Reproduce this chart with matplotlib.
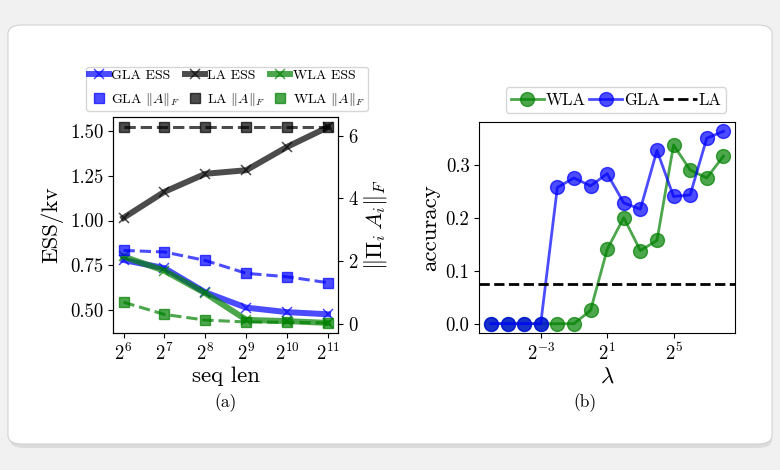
import numpy as np
import matplotlib
matplotlib.use('Agg')
import matplotlib.pyplot as plt
from matplotlib.patches import FancyBboxPatch
from matplotlib.lines import Line2D

plt.rcParams['font.family'] = 'serif'
plt.rcParams['font.serif'] = ['cmr10', 'DejaVu Serif']
plt.rcParams['mathtext.fontset'] = 'cm'
plt.rcParams['axes.formatter.use_mathtext'] = True

# (a) effective state size vs sequence length
seq_len = [2**6, 2**7, 2**8, 2**9, 2**10, 2**11]
gla_ess = [0.78, 0.735, 0.60, 0.515, 0.49, 0.478]
la_ess = [1.015, 1.16, 1.26, 1.28, 1.41, 1.52]
wla_ess = [0.80, 0.72, 0.595, 0.447, 0.44, 0.43]
gla_norm = [2.34, 2.29, 2.02, 1.61, 1.50, 1.31]
la_norm = [6.27, 6.27, 6.27, 6.27, 6.27, 6.27]
wla_norm = [0.69, 0.30, 0.12, 0.06, 0.05, 0.03]

# (b) accuracy vs lambda
lam = [2.0**k for k in range(-6, 9)]
wla_acc = [0, 0, 0, 0, 0, 0, 0.025, 0.14, 0.20, 0.138, 0.157, 0.337, 0.29, 0.275, 0.316]
gla_acc = [0, 0, 0, 0, 0.257, 0.275, 0.26, 0.283, 0.228, 0.216, 0.327, 0.24, 0.243, 0.35, 0.363]
la_acc = 0.075

fig = plt.figure(figsize=(7.8, 4.7), dpi=100)
fig.patch.set_facecolor('#f1f1f1')

# card behind the plots
W, H = 780, 470
shadow = FancyBboxPatch((10 / W, 1 - 448 / H), 762 / W, 418 / H,
                        boxstyle='round,pad=0,rounding_size=0.018',
                        transform=fig.transFigure, facecolor='#dcdcdc',
                        edgecolor='none', zorder=-2)
card = FancyBboxPatch((8 / W, 1 - 444 / H), 764 / W, 419 / H,
                      boxstyle='round,pad=0,rounding_size=0.018',
                      transform=fig.transFigure, facecolor='white',
                      edgecolor='#c8c8c8', linewidth=0.6, zorder=-1)
fig.patches.extend([shadow, card])

tick_fs = 13.5
lab_fs = 16.5
a = 0.7

ax1 = fig.add_axes([113.3 / W, 1 - 332.7 / H, 225 / W, 215.4 / H])
ax1r = ax1.twinx()
l_gla, = ax1.plot(seq_len, gla_ess, color='blue', lw=4.3, alpha=a, marker='x', ms=6.5, mew=1.1, label='GLA ESS')
l_la, = ax1.plot(seq_len, la_ess, color='black', lw=4.3, alpha=a, marker='x', ms=6.5, mew=1.1, label='LA ESS')
l_wla, = ax1.plot(seq_len, wla_ess, color='green', lw=4.3, alpha=a, marker='x', ms=6.5, mew=1.1, label='WLA ESS')
ax1r.plot(seq_len, gla_norm, color='blue', lw=2.2, ls='--', alpha=a, marker='s', ms=7)
ax1r.plot(seq_len, la_norm, color='black', lw=2.2, ls='--', alpha=a, marker='s', ms=7)
ax1r.plot(seq_len, wla_norm, color='green', lw=2.2, ls='--', alpha=a, marker='s', ms=7)
ax1.set_xscale('log', base=2)
ax1.set_xticks(seq_len)
ax1.xaxis.set_minor_locator(matplotlib.ticker.NullLocator())
ax1.set_yticks([0.5, 0.75, 1.0, 1.25, 1.5])
ax1.set_yticklabels(['0.50', '0.75', '1.00', '1.25', '1.50'])
ax1r.set_yticks([0, 2, 4, 6])
ax1.set_xlabel('seq len', fontsize=lab_fs, labelpad=2)
ax1.set_ylabel('ESS/kv', fontsize=lab_fs, labelpad=5)
ax1r.set_ylabel(r'$\|\Pi_i\, A_i\|_F$', fontsize=lab_fs, labelpad=2)
for ax in (ax1, ax1r):
    ax.tick_params(labelsize=tick_fs)

# legend: squares shown as marker only
sq = lambda c, lab: Line2D([], [], color=c, alpha=a, ls='none', marker='s', ms=7, label=lab)
n_gla = sq('blue', r'GLA $\|A\|_F$')
n_la = sq('black', r'LA $\|A\|_F$')
n_wla = sq('green', r'WLA $\|A\|_F$')
# column-major order so rows read ESS / norm
handles = [l_gla, n_gla, l_la, n_la, l_wla, n_wla]
fig.legend(handles, [h.get_label() for h in handles], ncol=3, loc='center',
           bbox_to_anchor=(226.7 / W, 1 - 88.7 / H),
           fontsize=10, handlelength=1.5, handletextpad=0.15, columnspacing=0.3,
           borderpad=0.2, labelspacing=0.65, borderaxespad=0)
fig.text(226 / W, 1 - 403 / H, '(a)', ha='center', va='center', fontsize=12.5)

ax2 = fig.add_axes([479.3 / W, 1 - 333.3 / H, 255.7 / W, 211.6 / H])
ax2.plot(lam, wla_acc, color='green', lw=2, alpha=a, marker='o', ms=10, label='WLA')
ax2.plot(lam, gla_acc, color='blue', lw=2, alpha=a, marker='o', ms=10, label='GLA')
ax2.axhline(la_acc, color='black', lw=2, ls='--', label='LA')
ax2.set_xscale('log', base=2)
ax2.set_xticks([2.0**-3, 2.0**1, 2.0**5])
ax2.xaxis.set_minor_locator(matplotlib.ticker.NullLocator())
ax2.set_yticks([0.0, 0.1, 0.2, 0.3])
ax2.set_yticklabels(['0.0', '0.1', '0.2', '0.3'])
ax2.tick_params(labelsize=tick_fs)
ax2.set_xlabel(r'$\lambda$', fontsize=lab_fs, labelpad=2)
ax2.set_ylabel('accuracy', fontsize=lab_fs, labelpad=4)
ax2.legend(ncol=3, loc='center', bbox_to_anchor=(616 / W, 1 - 100 / H), bbox_transform=fig.transFigure,
           fontsize=12, handlelength=2.0, handletextpad=0.1, columnspacing=0.2,
           borderpad=0.3, borderaxespad=0)
fig.text(585 / W, 1 - 403 / H, '(b)', ha='center', va='center', fontsize=12.5)

plt.savefig('out.png', dpi=100, facecolor=fig.get_facecolor())
